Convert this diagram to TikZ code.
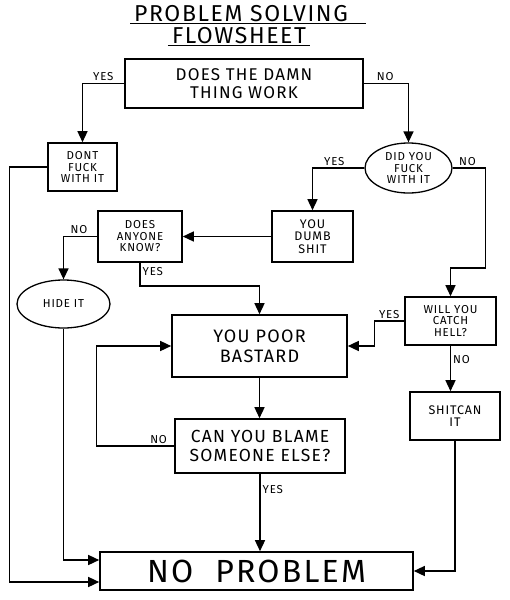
\documentclass[tikz,border=0pt]{standalone}
\usepackage{fontspec}
\setmainfont{Fira Sans}[LetterSpace=7]
\usetikzlibrary{arrows.meta,shapes.geometric,calc}

\tikzset{
  box/.style={draw, line width=1.6pt, align=center, inner sep=2pt},
  oval/.style={draw, ellipse, line width=1.3pt, align=center, inner sep=0pt},
  flow/.style={line width=1.4pt, -{Triangle[length=11pt,width=10pt]}},
  lbl/.style={font=\fontsize{11.5}{12}\selectfont, inner sep=2pt},
  small/.style={font=\fontsize{11.5}{11.5}\selectfont},
}

\begin{document}
\begin{tikzpicture}[x=1pt, y=-1pt]
\fill[white] (0,0) rectangle (510,600);
\useasboundingbox (0,0) rectangle (510,600);

% title
\node[font=\fontsize{23}{24}\selectfont, inner sep=1pt] (ttl1) at (241,14) {PROBLEM SOLVING};
\node[font=\fontsize{23}{24}\selectfont, inner sep=1pt] (ttl2) at (239,36) {FLOWSHEET};
\draw[line width=1.2pt] ($(ttl1.south west)+(-3,0)$) -- ($(ttl1.south east)+(17,0)$);
\draw[line width=1.2pt] ($(ttl2.south west)+(-3,0)$) -- ($(ttl2.south east)+(3,0)$);

% boxes
\node[box, minimum width=238, minimum height=49, font=\fontsize{17}{18}\selectfont] (work) at (244,83.5) {DOES THE DAMN\\THING WORK};
\node[box, minimum width=69, minimum height=48, small] (dont) at (82.5,167) {DONT\\FUCK\\WITH IT};
\node[oval, minimum width=87, minimum height=50, small] (didyou) at (408.5,168) {DID YOU\\FUCK\\WITH IT};
\node[box, minimum width=81, minimum height=51, font=\fontsize{12.5}{12.5}\selectfont] (dumb) at (312.5,236.5) {YOU\\DUMB\\SHIT};
\node[box, minimum width=84, minimum height=51, small] (anyone) at (140,236.5) {DOES\\ANYONE\\KNOW?};
\node[oval, minimum width=93, minimum height=48, small] (hide) at (63.5,304) {HIDE IT};
\node[box, minimum width=175, minimum height=62, font=\fontsize{18}{20}\selectfont] (bastard) at (259.5,346) {YOU POOR\\BASTARD};
\node[box, minimum width=91, minimum height=48, small] (hell) at (450.5,321) {WILL YOU\\CATCH\\HELL?};
\node[box, minimum width=170, minimum height=54, font=\fontsize{17.5}{19}\selectfont] (blame) at (260,446) {CAN YOU BLAME\\SOMEONE ELSE?};
\node[box, minimum width=90, minimum height=48, font=\fontsize{12.5}{12.5}\selectfont] (shitcan) at (455,416) {SHITCAN\\IT};
\node[box, minimum width=313, minimum height=38, font=\fontsize{32}{32}\selectfont] (problem) at (256.5,571) {NO\hspace{22pt}PROBLEM};

% connectors
\draw[flow] (work.west) -| (dont.north) node[lbl, above, pos=0.25] {YES};
\draw[flow] (work.east) -| (didyou.north) node[lbl, above, pos=0.24] {NO};
\draw[flow] (dont.west) -- ++(-38,0) |- ($(problem.west)+(0,11)$);
\draw[flow] (didyou.west) -| (dumb.north) node[lbl, above, pos=0.29] {YES};
\draw[flow] (didyou.east) -- ++(33,0) node[lbl, above, pos=0.45] {NO} -- ++(0,100) -| (hell.north);
\draw[flow] (dumb.west) -- (anyone.east);
\draw[flow] (anyone.west) -| (hide.north) node[lbl, above, pos=0.27] {NO};
\draw[flow] (anyone.south) -- ++(0,23) node[lbl, right, pos=0.4] {YES} -| (bastard.north);
\draw[flow] (hide.south) |- ($(problem.west)+(0,-11)$);
\draw[flow] (hell.west) -- ++(-30,0) node[lbl, above, midway] {YES} |- (bastard.east);
\draw[flow] (hell.south) -- (hell.south |- shitcan.north) node[lbl, right, pos=0.3] {NO};
\draw[flow] (bastard.south) -- (bastard.south |- blame.north);
\draw[flow] (blame.west) -- ++(-78,0) node[lbl, above, pos=0.2] {NO} |- (bastard.west);
\draw[flow] (blame.south) -- (blame.south |- problem.north) node[lbl, right, pos=0.2] {YES};
\draw[flow] (shitcan.south) |- (problem.east);
\end{tikzpicture}
\end{document}
